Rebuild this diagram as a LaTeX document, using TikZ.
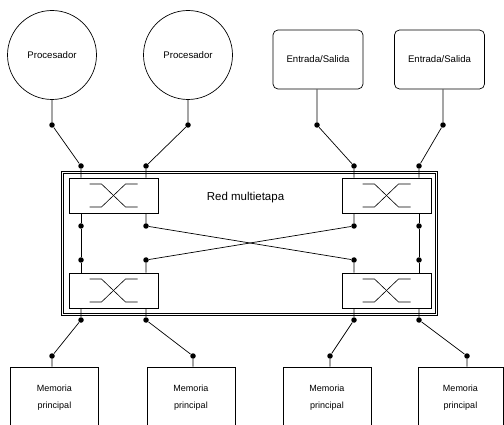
\documentclass[tikz,border=0pt]{standalone}
\usepackage{fontspec}
\setmainfont{Liberation Sans}
\begin{document}
\begin{tikzpicture}[x=1pt,y=-1pt,line width=0.7pt,
  dot/.style={circle,fill=black,inner sep=0pt,minimum size=5.5pt},
  proc/.style={circle,draw,minimum size=89pt,inner sep=0pt,
    font=\fontsize{9.6}{11}\selectfont},
  iobox/.style={draw,rounded corners=5pt,minimum width=90pt,minimum height=59pt,
    inner sep=0pt,font=\fontsize{9.6}{11}\selectfont},
  switchbox/.style={draw,minimum width=89pt,minimum height=35pt,inner sep=0pt,
    path picture={
      \draw[line width=0.6pt]
        ([shift={(-24,-11.5)}]path picture bounding box.center)
        -- ++(12,0) -- ++(24,23) -- ++(12,0);
      \draw[line width=0.6pt]
        ([shift={(-24,11.5)}]path picture bounding box.center)
        -- ++(12,0) -- ++(24,-23) -- ++(12,0);
    }},
  membox/.style={draw,minimum width=88pt,minimum height=61pt,inner sep=0pt,
    align=center,font=\fontsize{9}{17}\selectfont},
  netframe/.style={draw=black,double=white,double distance=1.5pt,line width=0.7pt}]
\clip (0,0) rectangle (504,425);

% processors and input/output units
\node[proc] (p1) at (52,55) {Procesador};
\node[proc] (p2) at (188,55) {Procesador};
\node[iobox] (io1) at (318,59.5) {Entrada/Salida};
\node[iobox] (io2) at (439.5,59.5) {Entrada/Salida};

% multistage network frame and its switches
\node[minimum width=373pt,minimum height=141pt,inner sep=0pt] (net) at (249.5,243.5) {};
\draw[netframe] (net.north west) rectangle (net.south east);
\node[font=\fontsize{11.5}{13}\selectfont] (netlabel) at (245.5,198) {Red multietapa};
\node[switchbox] (sw1) at (113.5,195.5) {};
\node[switchbox] (sw2) at (386.5,195.5) {};
\node[switchbox] (sw3) at (113.5,290.5) {};
\node[switchbox] (sw4) at (386.5,290.5) {};

% main memory modules
\node[membox] (m1) at (54.5,397.5) {Memoria\\principal};
\node[membox] (m2) at (191,397.5) {Memoria\\principal};
\node[membox] (m3) at (327,397.5) {Memoria\\principal};
\node[membox,minimum width=85pt] (m4) at (460.5,397.5) {Memoria\\principal};

% connection points
\node[dot] (a1) at (52,125) {};
\node[dot] (a2) at (188,125) {};
\node[dot] (a3) at (317,125) {};
\node[dot] (a4) at (443,125) {};
\node[dot] (b1) at (81,166) {};
\node[dot] (b2) at (146,166) {};
\node[dot] (b3) at (354,166) {};
\node[dot] (b4) at (419,166) {};
\node[dot] (c1) at (81,226) {};
\node[dot] (c2) at (146,226) {};
\node[dot] (c3) at (354,226) {};
\node[dot] (c4) at (419,226) {};
\node[dot] (d1) at (81,260) {};
\node[dot] (d2) at (146,260) {};
\node[dot] (d3) at (354,260) {};
\node[dot] (d4) at (419,260) {};
\node[dot] (e1) at (81,320) {};
\node[dot] (e2) at (146,320) {};
\node[dot] (e3) at (354,320) {};
\node[dot] (e4) at (419,320) {};
\node[dot] (f1) at (52,356) {};
\node[dot] (f2) at (193,356) {};
\node[dot] (f3) at (330,356) {};
\node[dot] (f4) at (467,356) {};

% inputs to the first stage
\draw (p1.south) -- (a1) -- (b1) -- (b1 |- sw1.north);
\draw (p2.south) -- (a2) -- (b2) -- (b2 |- sw1.north);
\draw (a3 |- io1.south) -- (a3) -- (b3) -- (b3 |- sw2.north);
\draw (a4 |- io2.south) -- (a4) -- (b4) -- (b4 |- sw2.north);

% links between the stages
\draw (c1 |- sw1.south) -- (c1) -- (d1) -- (d1 |- sw3.north);
\draw (c2 |- sw1.south) -- (c2) -- (d3) -- (d3 |- sw4.north);
\draw (c3 |- sw2.south) -- (c3) -- (d2) -- (d2 |- sw3.north);
\draw (c4 |- sw2.south) -- (c4) -- (d4) -- (d4 |- sw4.north);

% outputs to the memory modules
\draw (e1 |- sw3.south) -- (e1) -- (f1) -- (f1 |- m1.north);
\draw (e2 |- sw3.south) -- (e2) -- (f2) -- (f2 |- m2.north);
\draw (e3 |- sw4.south) -- (e3) -- (f3) -- (f3 |- m3.north);
\draw (e4 |- sw4.south) -- (e4) -- (f4) -- (f4 |- m4.north);
\end{tikzpicture}
\end{document}
